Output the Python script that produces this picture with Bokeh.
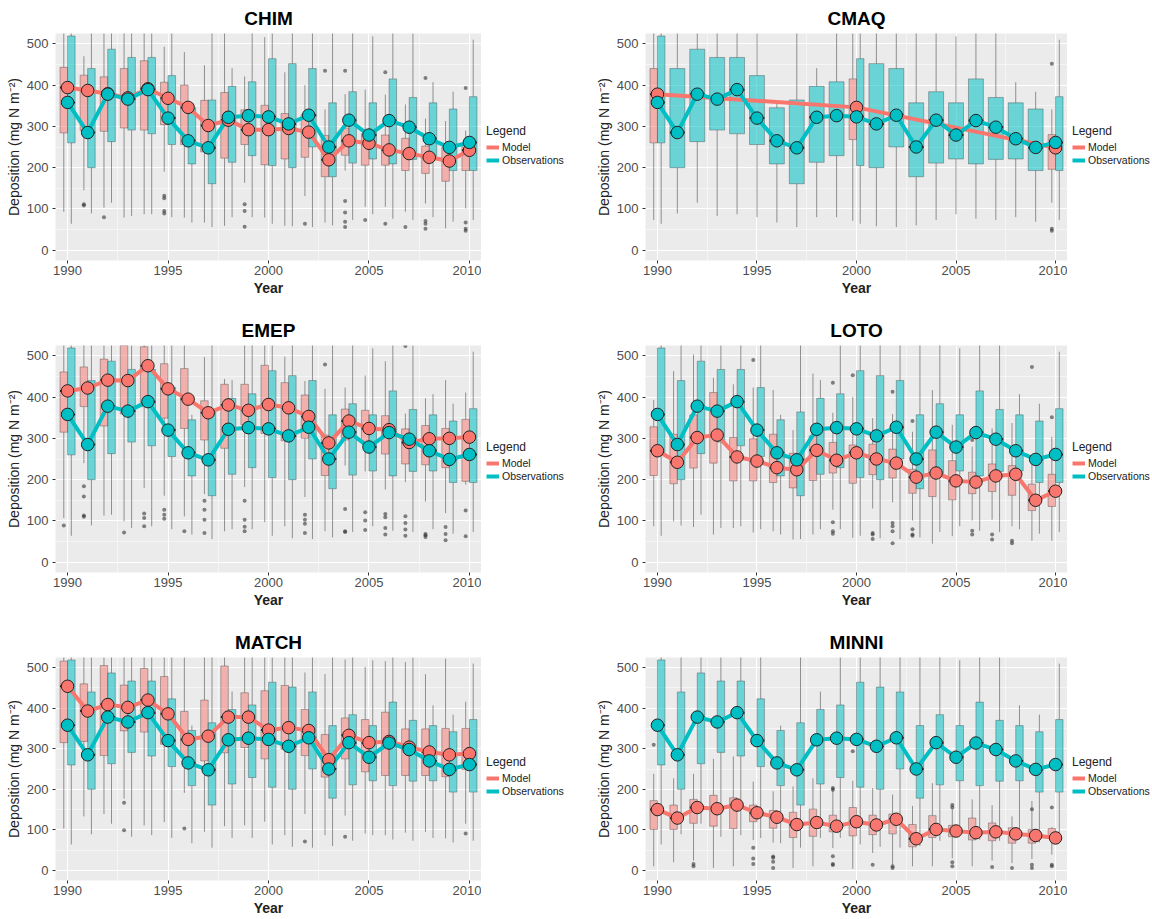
from bokeh.plotting import figure
from bokeh.models import FixedTicker, Legend, LegendItem
from bokeh.layouts import column, row
from bokeh.embed import file_html
from bokeh.resources import INLINE

YEARS = list(range(1990, 2011))
X_TICKS = [1990, 1995, 2000, 2005, 2010]
X_MINOR = [1992.5, 1997.5, 2002.5, 2007.5]
Y_TICKS = [0, 100, 200, 300, 400, 500]
Y_MINOR = [50, 150, 250, 350, 450]

MODEL_C = "#F8766D"
OBS_C = "#00BFC4"

# Observations (same in every panel)
OBS_LO = [64, 89, 115, 83, 87, 80, 67, 56, 80, 80, 64, 58, 56, 60, 73, 87, 76, 73, 80, 69, 73]
OBS_Q1 = [260, 200, 263, 291, 282, 256, 209, 161, 213, 229, 205, 200, 250, 178, 211, 221, 209, 220, 221, 193, 193]
OBS_MID = [358, 285, 378, 366, 389, 320, 265, 248, 322, 326, 323, 306, 327, 250, 315, 279, 314, 298, 270, 249, 261]
OBS_Q3 = [519, 440, 487, 467, 467, 423, 345, 364, 397, 408, 464, 452, 440, 357, 384, 357, 415, 370, 357, 342, 372]
OBS_HI = [560, 560, 560, 560, 560, 560, 357, 560, 441, 560, 560, 560, 560, 560, 560, 518, 560, 560, 407, 384, 510]

# CHIM
CHIM_YEARS = YEARS
CHIM_LO = [93, 145, 103, 79, 87, 190, 79, 67, 59, 163, 79, 59, 131, 67, 193, 105, 105, 93, 113, 53, 101]
CHIM_Q1 = [284, 290, 288, 296, 291, 304, 256, 238, 223, 256, 207, 221, 225, 178, 230, 206, 206, 193, 186, 167, 193]
CHIM_MID = [394, 387, 379, 369, 391, 368, 346, 302, 315, 292, 292, 295, 286, 219, 265, 259, 243, 234, 225, 216, 242]
CHIM_Q3 = [443, 424, 420, 440, 459, 407, 400, 363, 382, 340, 351, 331, 329, 278, 296, 282, 279, 271, 252, 250, 256]
CHIM_HI = [560, 470, 560, 560, 560, 493, 480, 448, 560, 421, 516, 431, 400, 341, 378, 389, 377, 353, 319, 313, 290]
CHIM_OUT = {1991: [111, 108], 1992: [80], 1995: [132, 126, 95, 89], 1999: [111, 95, 57],
            2002: [64], 2003: [435], 2004: [435, 119, 91, 69, 56], 2005: [73], 2006: [431, 64],
            2007: [56], 2008: [417, 71, 64, 52], 2010: [393, 67, 52, 47]}

# CMAQ
CMAQ_YEARS = [1990, 2000, 2010]
CMAQ_LO = [73, 71, 115]
CMAQ_Q1 = [260, 268, 196]
CMAQ_MID = [378, 346, 248]
CMAQ_Q3 = [440, 415, 280]
CMAQ_HI = [560, 560, 341]
CMAQ_OUT = {2010: [452, 52, 47]}

# EMEP
EMEP_YEARS = YEARS
EMEP_LO = [107, 240, 113, 99, 180, 161, 111, 165, 75, 182, 97, 87, 158, 75, 234, 220, 176, 194, 147, 119, 188]
EMEP_Q1 = [315, 377, 330, 359, 377, 349, 324, 296, 276, 333, 312, 294, 300, 210, 296, 287, 262, 238, 236, 229, 196]
EMEP_MID = [415, 422, 441, 440, 476, 420, 395, 362, 381, 368, 382, 374, 353, 289, 342, 324, 321, 290, 299, 300, 303]
EMEP_Q3 = [461, 473, 492, 560, 522, 481, 469, 391, 431, 431, 477, 435, 405, 308, 371, 368, 355, 323, 331, 324, 346]
EMEP_HI = [560, 560, 560, 560, 560, 560, 560, 497, 444, 560, 560, 498, 439, 420, 423, 452, 487, 360, 397, 441, 411]
EMEP_OUT = {1990: [89], 1991: [184, 159, 113, 110], 1993: [72], 1994: [118, 107, 87],
            1995: [127, 115, 105], 1996: [75], 1997: [149, 127, 103, 71], 1999: [149, 103, 86, 75],
            2002: [115, 103, 93, 71], 2003: [479], 2004: [129, 75, 73], 2005: [121, 101, 78],
            2006: [117, 109, 83, 67], 2007: [524, 111, 95, 79, 64], 2008: [68, 65, 61],
            2009: [85, 68, 53], 2010: [125, 63]}

# LOTO
LOTO_YEARS = YEARS
LOTO_LO = [87, 99, 85, 67, 83, 72, 75, 55, 67, 127, 59, 130, 145, 101, 45, 63, 101, 103, 87, 52, 52]
LOTO_Q1 = [210, 190, 228, 240, 197, 197, 193, 180, 198, 216, 191, 212, 204, 167, 159, 151, 166, 171, 162, 125, 135]
LOTO_MID = [270, 242, 302, 308, 255, 245, 229, 224, 271, 247, 265, 250, 240, 206, 216, 197, 194, 209, 213, 150, 172]
LOTO_Q3 = [328, 310, 357, 411, 302, 299, 310, 264, 306, 290, 284, 286, 274, 225, 272, 246, 218, 238, 234, 189, 213]
LOTO_HI = [393, 463, 503, 447, 431, 423, 417, 320, 457, 362, 400, 349, 359, 316, 417, 333, 280, 324, 337, 252, 304]
LOTO_OUT = {1995: [490], 1999: [435, 97, 75, 69], 2000: [453], 2001: [71, 67, 56],
            2002: [413, 95, 87, 75, 46], 2003: [342, 80, 67, 64], 2006: [296, 76, 67],
            2007: [67, 55], 2008: [52, 46], 2009: [473], 2010: [351]}

# MATCH
MATCH_YEARS = YEARS
MATCH_LO = [103, 133, 139, 177, 111, 119, 191, 95, 109, 111, 120, 87, 139, 87, 135, 91, 87, 93, 95, 79, 115]
MATCH_Q1 = [315, 318, 283, 344, 341, 311, 279, 270, 290, 303, 275, 299, 283, 230, 275, 243, 234, 234, 234, 231, 249]
MATCH_MID = [454, 393, 409, 402, 420, 386, 323, 331, 378, 378, 346, 352, 345, 273, 333, 315, 318, 304, 292, 285, 288]
MATCH_Q3 = [516, 460, 505, 457, 498, 478, 392, 420, 504, 438, 443, 456, 397, 335, 376, 372, 390, 349, 349, 350, 350]
MATCH_HI = [560, 560, 560, 560, 560, 560, 560, 560, 560, 560, 560, 560, 488, 484, 520, 502, 516, 514, 484, 522, 416]
MATCH_OUT = {1993: [167, 99], 1996: [103], 2002: [71], 2004: [83], 2010: [91]}

# MINNI
MINNI_YEARS = YEARS
MINNI_LO = [10, 20, 24, 6, 10, 75, 68, 6, 10, 55, 4, 43, 14, 10, 10, 30, 10, 24, 18, 28, 39]
MINNI_Q1 = [101, 101, 116, 109, 103, 120, 104, 81, 84, 95, 85, 88, 90, 58, 81, 83, 75, 73, 67, 67, 79]
MINNI_MID = [150, 129, 155, 152, 161, 142, 131, 113, 118, 109, 120, 112, 126, 78, 101, 97, 93, 95, 90, 86, 80]
MINNI_Q3 = [172, 161, 175, 185, 179, 161, 148, 143, 151, 136, 155, 136, 139, 113, 135, 111, 129, 117, 105, 101, 103]
MINNI_HI = [238, 227, 238, 275, 281, 219, 195, 207, 227, 205, 221, 203, 187, 159, 215, 151, 175, 161, 133, 171, 107]
MINNI_OUT = {1990: [310], 1992: [16, 10], 1995: [56, 29, 16], 1996: [34, 31, 21, 6],
             1999: [203, 199, 35, 16, 13], 2000: [294], 2001: [14], 2002: [10, 6],
             2005: [161, 155, 20, 10], 2007: [8], 2008: [6], 2009: [151, 14, 6], 2010: [155, 14, 10]}

LEGEND_LABELS = ["Model", "Observations"]

FONT = "Liberation Sans"
HALF = 0.375 / 2
FRAME_H = 227
TOP = 33


def draw_box(p, xs, ws, lo, q1, mid, q3, hi, color, alpha):
    x0 = [x - w / 2 for x, w in zip(xs, ws)]
    x1 = [x + w / 2 for x, w in zip(xs, ws)]
    p.segment(x0=xs, y0=q3, x1=xs, y1=hi, line_color="#333333", line_alpha=0.5, line_width=1)
    p.segment(x0=xs, y0=lo, x1=xs, y1=q1, line_color="#333333", line_alpha=0.5, line_width=1)
    p.vbar(x=xs, width=ws, bottom=q1, top=q3, fill_color=color, fill_alpha=alpha,
           line_color="#333333", line_alpha=0.45, line_width=0.8)
    p.segment(x0=x0, y0=mid, x1=x1, y1=mid, line_color="#222222", line_width=2)


def legend_figure(width, height, legend_y):
    lf = figure(width=width, height=height, x_range=(0, 1), y_range=(0, 1),
                output_backend="svg", toolbar_location=None,
                min_border=0, x_axis_type=None, y_axis_type=None)
    lf.outline_line_color = None
    lf.background_fill_color = "white"
    lf.border_fill_color = "white"
    lf.xgrid.visible = False
    lf.ygrid.visible = False
    # legend keys (drawn off-range; only their legend glyphs show)
    ml = lf.line([5, 6], [5, 6], line_color=MODEL_C, line_width=4)
    ol = lf.line([5, 6], [5, 6], line_color=OBS_C, line_width=4)
    legend = Legend(items=[LegendItem(label=LEGEND_LABELS[0], renderers=[ml]),
                           LegendItem(label=LEGEND_LABELS[1], renderers=[ol])],
                    title="Legend", location=(5, legend_y))
    legend.title_text_font = FONT
    legend.title_text_font_size = "12px"
    legend.title_text_font_style = "normal"
    legend.title_text_color = "#222222"
    legend.title_standoff = 3
    legend.label_text_font = FONT
    legend.label_text_font_size = "10.5px"
    legend.label_text_color = "#222222"
    legend.glyph_width = 13
    legend.glyph_height = 12
    legend.label_height = 12
    legend.label_standoff = 3
    legend.spacing = 1
    legend.padding = 2
    legend.margin = 0
    legend.border_line_color = None
    legend.background_fill_color = "white"
    legend.background_fill_alpha = 0
    lf.add_layout(legend)
    return lf


def make_panel(name, years, lo, q1, mid, q3, hi, outliers, left_border, frame_w, legend_w,
               height, legend_y):
    p = figure(width=left_border + frame_w, height=height, x_range=(1989.4, 2010.6),
               y_range=(-25, 525), output_backend="svg", toolbar_location=None,
               min_border_left=left_border, min_border_right=0,
               min_border_top=0, min_border_bottom=height - TOP - FRAME_H)
    p.background_fill_color = "#EBEBEB"
    p.border_fill_color = "white"
    p.outline_line_color = None

    p.title.text = name
    p.title.align = "center"
    p.title.text_font = FONT
    p.title.text_font_size = "19px"
    p.title.text_font_style = "bold"
    p.title.text_color = "black"

    p.xaxis.ticker = FixedTicker(ticks=X_TICKS, minor_ticks=X_MINOR)
    p.yaxis.ticker = FixedTicker(ticks=Y_TICKS, minor_ticks=Y_MINOR)
    for ax in (p.xaxis[0], p.yaxis[0]):
        ax.axis_line_color = None
        ax.major_tick_line_color = "#333333"
        ax.major_tick_out = 3
        ax.major_tick_in = 0
        ax.minor_tick_line_color = None
        ax.major_label_text_font = FONT
        ax.major_label_text_font_size = "13px"
        ax.major_label_text_color = "#4D4D4D"
        ax.axis_label_text_font = FONT
        ax.axis_label_text_font_size = "14px"
        ax.axis_label_text_color = "#222222"
        ax.axis_label_standoff = 2
    p.xaxis.axis_label = "Year"
    p.xaxis.axis_label_text_font_style = "bold"
    p.xaxis.major_label_standoff = 1
    p.yaxis.axis_label = "Deposition (mg N m\u207B\u00B2)"
    p.yaxis.axis_label_text_font_style = "normal"
    p.yaxis.major_label_standoff = 3

    for g in (p.xgrid[0], p.ygrid[0]):
        g.grid_line_color = "white"
        g.grid_line_width = 1.1
        g.minor_grid_line_color = "white"
        g.minor_grid_line_width = 0.5

    model_set = set(years)
    mx = [y - HALF for y in years]
    mw = [0.375 for _ in years]
    ox, ow = [], []
    for y in YEARS:
        if y in model_set:
            ox.append(y + HALF)
            ow.append(0.375)
        else:
            ox.append(y)
            ow.append(0.75)

    draw_box(p, mx, mw, lo, q1, mid, q3, hi, MODEL_C, 0.5)
    draw_box(p, ox, ow, OBS_LO, OBS_Q1, OBS_MID, OBS_Q3, OBS_HI, OBS_C, 0.55)

    outx, outy = [], []
    for y, vals in outliers.items():
        for v in vals:
            outx.append(y - HALF)
            outy.append(v)
    p.scatter(outx, outy, size=4, fill_color="#333333", line_color=None, fill_alpha=0.6)

    p.line(years, mid, line_color=MODEL_C, line_width=4)
    p.line(YEARS, OBS_MID, line_color=OBS_C, line_width=4)
    p.scatter(years, mid, size=12.5, fill_color=MODEL_C, line_color="#222222", line_width=1)
    p.scatter(YEARS, OBS_MID, size=12.5, fill_color=OBS_C, line_color="#222222", line_width=1)

    return row(p, legend_figure(legend_w, height, legend_y))


c1 = make_panel("CHIM", CHIM_YEARS, CHIM_LO, CHIM_Q1, CHIM_MID, CHIM_Q3, CHIM_HI, CHIM_OUT, 55, 426, 95, 312, 94)
c2 = make_panel("CMAQ", CMAQ_YEARS, CMAQ_LO, CMAQ_Q1, CMAQ_MID, CMAQ_Q3, CMAQ_HI, CMAQ_OUT, 69, 422, 85, 312, 94)
c3 = make_panel("EMEP", EMEP_YEARS, EMEP_LO, EMEP_Q1, EMEP_MID, EMEP_Q3, EMEP_HI, EMEP_OUT, 55, 426, 95, 312, 90)
c4 = make_panel("LOTO", LOTO_YEARS, LOTO_LO, LOTO_Q1, LOTO_MID, LOTO_Q3, LOTO_HI, LOTO_OUT, 69, 422, 85, 312, 90)
c5 = make_panel("MATCH", MATCH_YEARS, MATCH_LO, MATCH_Q1, MATCH_MID, MATCH_Q3, MATCH_HI, MATCH_OUT, 55, 426, 95, 294, 83)
c6 = make_panel("MINNI", MINNI_YEARS, MINNI_LO, MINNI_Q1, MINNI_MID, MINNI_Q3, MINNI_HI, MINNI_OUT, 69, 422, 85, 294, 83)

layout = column(row(c1, c2), row(c3, c4), row(c5, c6))
open("out.html", "w").write(file_html(layout, INLINE))
